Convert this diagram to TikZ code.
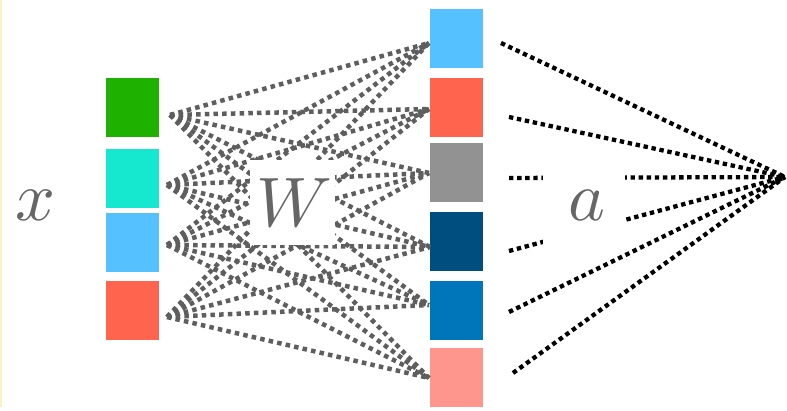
\documentclass[tikz,border=0pt]{standalone}
\usepackage{graphicx}
\definecolor{cgreen}{HTML}{1EB100}
\definecolor{ccyan}{HTML}{16E7CF}
\definecolor{clblue}{HTML}{56C1FF}
\definecolor{cred}{HTML}{FF644E}
\definecolor{cgray}{HTML}{929292}
\definecolor{cdblue}{HTML}{004D7F}
\definecolor{cblue}{HTML}{0076BA}
\definecolor{cpink}{HTML}{FF968D}
\definecolor{ctext}{HTML}{666666}
\definecolor{cline}{HTML}{5E5E5E}
\definecolor{cyellow}{HTML}{FFF0C4}
\newcommand{\biglbl}[1]{\scalebox{7}{$#1$}}
\begin{document}
\begin{tikzpicture}[x=1pt,y=-1pt,
  cell/.style={draw=none,minimum width=53pt,minimum height=59pt,inner sep=0pt,anchor=north west},
  wline/.style={draw=cline,line width=4.5pt,dash pattern=on 4.5pt off 4.2pt},
  aline/.style={draw=black,line width=4.3pt,dash pattern=on 4.4pt off 3.7pt},
  lbl/.style={text=ctext,inner sep=0pt},
  mask/.style={fill=white,draw=none}]
\useasboundingbox (0,0) rectangle (787,411);
\fill[white] (0,0) rectangle (787,411);
\draw[cyellow,line width=2pt] (1,0) -- (1,407);
% input cells
\node[cell,fill=cgreen] (i1) at (106,78) {};
\node[cell,fill=ccyan] (i2) at (106,149) {};
\node[cell,fill=clblue] (i3) at (106,213) {};
\node[cell,fill=cred] (i4) at (106,281) {};
% output cells
\node[cell,fill=clblue] (o1) at (430,9) {};
\node[cell,fill=cred] (o2) at (430,78) {};
\node[cell,fill=cgray] (o3) at (430,143) {};
\node[cell,fill=cdblue] (o4) at (430,212) {};
\node[cell,fill=cblue] (o5) at (430,281) {};
\node[cell,fill=cpink] (o6) at (430,348) {};
% connector end points
\coordinate (l1) at (170,115);
\coordinate (l2) at (167,185);
\coordinate (l3) at (167,245);
\coordinate (l4) at (167,317);
\coordinate (r1) at (429,43);
\coordinate (r2) at (429,109);
\coordinate (r3) at (429,173);
\coordinate (r4) at (430,247);
\coordinate (r5) at (429,305);
\coordinate (r6) at (429,378);
\coordinate (s1) at (501,43);
\coordinate (s2) at (509,117);
\coordinate (s3) at (509,178);
\coordinate (s4) at (509,251);
\coordinate (s5) at (509,312);
\coordinate (s6) at (513,373);
\coordinate (t) at (785,177);
\foreach \i in {1,...,4}{
  \foreach \j in {1,...,6}{
    \draw[wline] (l\i) -- (r\j);
  }
}
\foreach \j in {1,...,6}{
  \draw[aline] (s\j) -- (t);
}
\fill[mask] (250,160) rectangle (335,245);
\fill[mask] (543,160) rectangle (625,250);
\node[lbl] (x) at (36,205) {\biglbl{x}};
\node[lbl] (W) at (294,203) {\biglbl{W}};
\node[lbl] (a) at (587,205) {\biglbl{a}};
\end{tikzpicture}
\end{document}
